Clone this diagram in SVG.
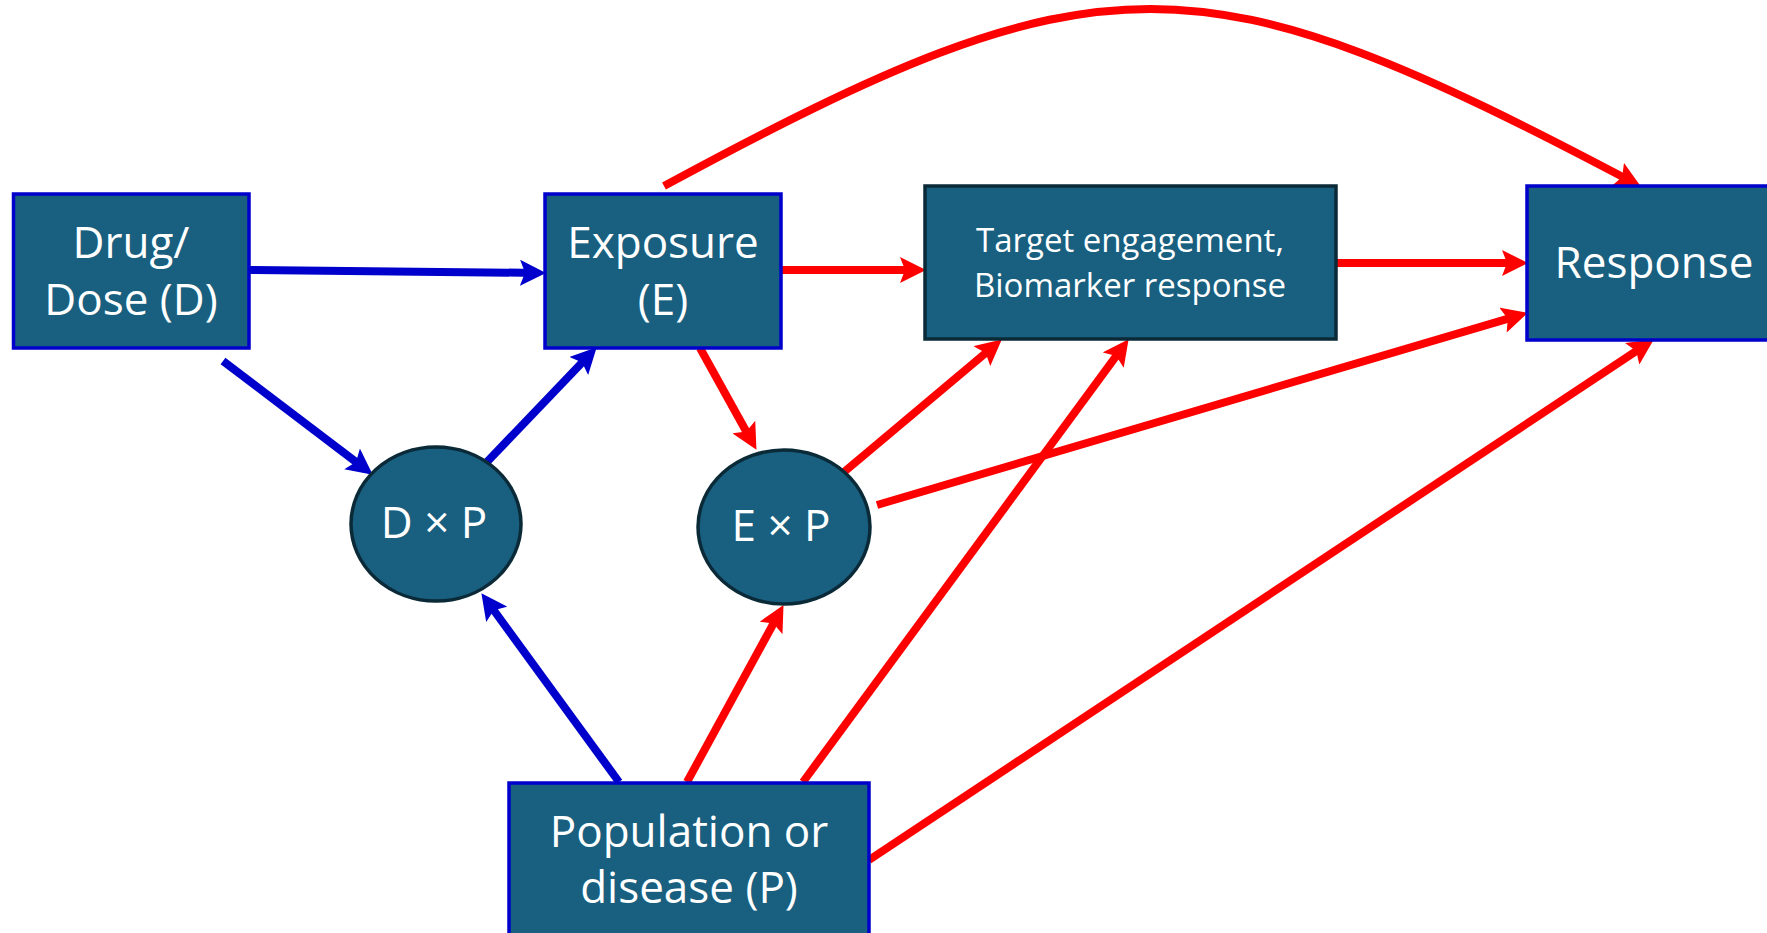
<svg xmlns="http://www.w3.org/2000/svg" width="1767" height="933" viewBox="0 0 1767 933">
<style>
.box{fill:#185F80;stroke:#0000CC;stroke-width:3.5}
.dark{fill:#185F80;stroke:#0B2A38;stroke-width:3.5}
.t{font-family:"Open Sans","Noto Sans",sans-serif;fill:#FFFFFF;text-anchor:middle}
.big{font-size:44px}
.small{font-size:33px}
.blue{stroke:#0000CC;stroke-width:8;fill:none;marker-end:url(#ab)}
.red{stroke:#FF0000;stroke-width:8;fill:none;marker-end:url(#ar)}
</style>
<defs>
<marker id="ab" markerUnits="userSpaceOnUse" markerWidth="26" markerHeight="26" refX="17" refY="13" orient="auto">
<path d="M0,0 L26,13 L0,26 L5,13 z" fill="#0000CC"/>
</marker>
<marker id="ar" markerUnits="userSpaceOnUse" markerWidth="26" markerHeight="26" refX="17" refY="13" orient="auto">
<path d="M0,0 L26,13 L0,26 L5,13 z" fill="#FF0000"/>
</marker>
</defs>
<rect width="1767" height="933" fill="#FFFFFF"/>
<g id="connectors">
<line class="blue" x1="249" y1="270" x2="537" y2="272.9"/>
<line class="blue" x1="223" y1="361" x2="365.6" y2="469.2"/>
<line class="blue" x1="485" y1="464" x2="590.5" y2="353.8"/>
<line class="blue" x1="619" y1="782" x2="486.7" y2="600.5"/>
<line class="red" x1="782" y1="270" x2="917" y2="270"/>
<line class="red" x1="700" y1="348" x2="752.1" y2="442"/>
<line class="red" x1="844" y1="472" x2="994.9" y2="345.2"/>
<line class="red" x1="877" y1="505" x2="1519.3" y2="315.3"/>
<line class="red" x1="803" y1="782" x2="1123.3" y2="346.4"/>
<line class="red" x1="687" y1="782" x2="779.2" y2="613"/>
<line class="red" x1="869" y1="860" x2="1646.3" y2="344.4"/>
<line class="red" x1="1337" y1="263" x2="1519" y2="263"/>
<path class="red" d="M664,186 C1104,-52 1199,-47 1632.9,182.3"/>
</g>
<g id="drug">
<rect class="box" x="13.5" y="194" width="235.5" height="154"/>
<text class="t big" x="131" y="258">Drug/</text>
<text class="t big" x="131" y="315">Dose (D)</text>
</g>
<g id="exposure">
<rect class="box" x="545" y="194" width="236" height="154"/>
<text class="t big" x="663" y="258">Exposure</text>
<text class="t big" x="663" y="315">(E)</text>
</g>
<g id="target">
<rect class="dark" x="925" y="186" width="411" height="153"/>
<text class="t small" x="1130" y="252">Target engagement,</text>
<text class="t small" x="1130" y="297">Biomarker response</text>
</g>
<g id="response">
<rect class="box" x="1527" y="186" width="260" height="154"/>
<text class="t big" x="1654" y="278">Response</text>
</g>
<g id="dxp">
<ellipse class="dark" cx="436" cy="524" rx="85" ry="77"/>
<text class="t big" x="434" y="538">D × P</text>
</g>
<g id="exp">
<ellipse class="dark" cx="784" cy="527" rx="86" ry="77"/>
<text class="t big" x="781" y="541">E × P</text>
</g>
<g id="population">
<rect class="box" x="509" y="783" width="360" height="170"/>
<text class="t big" x="689" y="847">Population or</text>
<text class="t big" x="689" y="903">disease (P)</text>
</g>
</svg>
